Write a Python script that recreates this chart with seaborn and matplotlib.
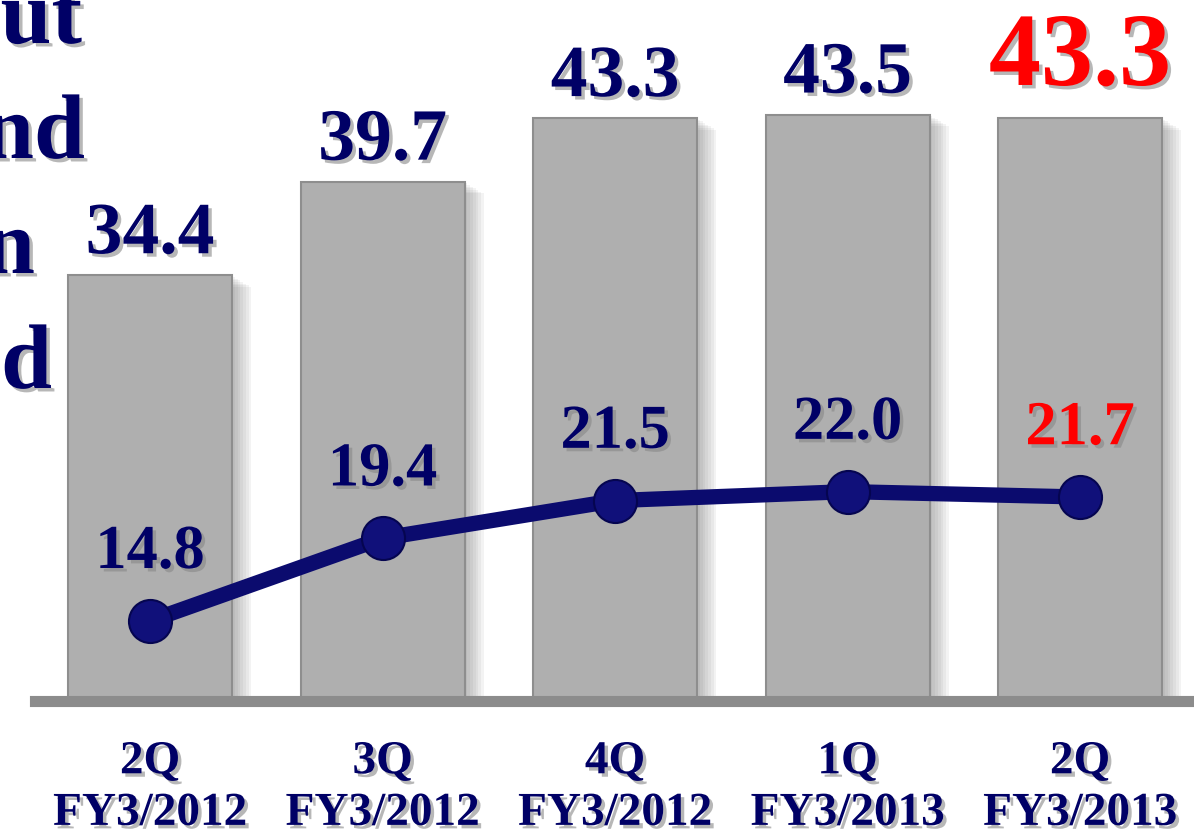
import numpy as np
import pandas as pd
import matplotlib
matplotlib.use("Agg")
import matplotlib.pyplot as plt
import matplotlib.patheffects as pe
import seaborn as sns

# ---- data ----
quarters = ["2Q", "3Q", "4Q", "1Q", "2Q"]
fiscal_years = ["FY3/2012", "FY3/2012", "FY3/2012", "FY3/2013", "FY3/2013"]
bar_values = [34.4, 39.7, 43.3, 43.5, 43.3]
line_values = [14.8, 19.4, 21.5, 22.0, 21.7]
left_fragments = ["ut", "nd", "n", "d"]

NAVY = "#000066"
RED = "#FF0000"
BAR = "#AFAFAF"
LINE = "#0B0B6E"

sns.set_theme(style="white")
plt.rcParams["font.family"] = ["Liberation Serif", "DejaVu Serif"]
plt.rcParams["font.weight"] = "bold"

W, H = 1194, 836
fig = plt.figure(figsize=(W / 100, H / 100), dpi=100)
fig.patch.set_facecolor("white")

base_px = 701
ax = fig.add_axes([35 / W, 1 - base_px / H, 1 - 35 / W, base_px / H])
ax.set_facecolor("none")

df = pd.DataFrame({"cat": quarters, "pos": np.arange(len(bar_values)), "val": bar_values})
sns.barplot(data=df, x="pos", y="val", color=BAR, width=0.705, ax=ax,
            saturation=1, edgecolor="#8E8E8E", linewidth=1.5)
soft_shadow = [pe.SimplePatchShadow(offset=(2 + 2 * k, -1 - 1.2 * k),
                                    shadow_rgbFace="#606060", alpha=0.07)
               for k in range(7)] + [pe.Normal()]
for p in ax.patches:
    p.set_path_effects(soft_shadow)

ax.set_xlim(-0.495, 4.49)
ax.set_ylim(10.3, 50.0)
ax.set_xlabel("")
ax.set_ylabel("")
ax.set_yticks([])
for s in ["top", "right", "left"]:
    ax.spines[s].set_visible(False)
ax.spines["bottom"].set_color("#8C8C8C")
ax.spines["bottom"].set_linewidth(8)
ax.set_xticks(np.arange(len(quarters)))
ax.set_xticklabels([f"{q}\n{fy}" for q, fy in zip(quarters, fiscal_years)])
ax.tick_params(axis="x", length=0, pad=29)
txt_shadow = [pe.SimplePatchShadow(offset=(2.5, -2.5), shadow_rgbFace="#888888", alpha=0.6), pe.Normal()]
for t in ax.get_xticklabels():
    t.set_fontsize(34)
    t.set_fontweight("bold")
    t.set_color(NAVY)
    t.set_linespacing(1.3)
    t.set_path_effects(txt_shadow)

# bar value labels
for i, v in enumerate(bar_values):
    last = i == len(bar_values) - 1
    ax.annotate(f"{v:.1f}", (i, v), xytext=(0, 24 if last else 16),
                textcoords="offset points", ha="center", va="baseline",
                fontsize=75 if last else 53, fontweight="bold",
                color=RED if last else NAVY, path_effects=txt_shadow,
                annotation_clip=False)

# line on twin axis
ax2 = ax.twinx()
ax2.set_facecolor("none")
xs = np.arange(len(line_values))
sns.lineplot(x=xs, y=line_values, ax=ax2, color=LINE, linewidth=11,
             marker="o", markersize=31, markerfacecolor="#10107A",
             markeredgecolor="#050550", markeredgewidth=1.5)
ax2.set_ylim(10.33, 49.4)
ax2.set_yticks([])
for s in ["top", "right", "left", "bottom"]:
    ax2.spines[s].set_visible(False)
ax2.set_xlim(-0.495, 4.49)
for i, v in enumerate(line_values):
    last = i == len(line_values) - 1
    ax2.annotate(f"{v:.1f}", (i, v), xytext=(0, 38), textcoords="offset points",
                 ha="center", va="baseline", fontsize=45, fontweight="bold",
                 color=RED if last else NAVY, path_effects=txt_shadow)

# cut-off text fragments at left edge (cropped in the reference too)
frag_pos = [(82, 43), (85, 158), (35, 273), (52, 388)]
for frag, (xr, yb) in zip(left_fragments, frag_pos):
    fig.text(xr / W, 1 - yb / H, frag, ha="right", va="baseline",
             fontsize=66, fontweight="bold", color=NAVY, path_effects=txt_shadow)

fig.savefig("out.png", dpi=100)
